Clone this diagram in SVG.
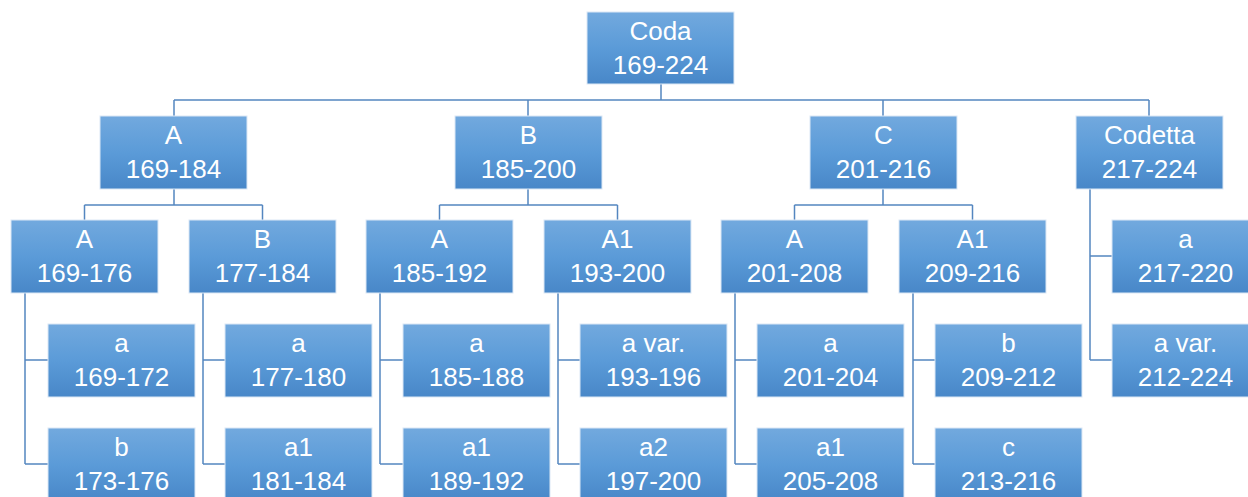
<svg xmlns="http://www.w3.org/2000/svg" width="1248" height="497" viewBox="0 0 1248 497">
<defs>
<linearGradient id="g" x1="0" y1="0" x2="0" y2="1">
<stop offset="0" stop-color="#72a9de"/>
<stop offset="0.5" stop-color="#5b9bd8"/>
<stop offset="1" stop-color="#4887c8"/>
</linearGradient>
</defs>
<style>
rect.n{fill:url(#g);stroke:#dce8f5;stroke-width:1}
text{font-family:"Liberation Sans",Arial,sans-serif;font-size:26px;fill:#ffffff;text-anchor:middle}
.c path{fill:none;stroke:#5486c0;stroke-width:1.5}
</style>
<rect width="1248" height="497" fill="#ffffff"/>
<g class="c">
<path d="M661 84V100M174 100H1149M174 100V116M528 100V116M883 100V116M1149 100V116"/>
<path d="M174 189V205M84.5 205H262.5M84.5 205V220M262.5 205V220"/>
<path d="M528 189V205M439.5 205H617.5M439.5 205V220M617.5 205V220"/>
<path d="M883 189V205M794.5 205H972.5M794.5 205V220M972.5 205V220"/>
<path d="M25 293V464M25 360H48M25 464H48"/>
<path d="M203 293V464M203 360H225M203 464H225"/>
<path d="M380 293V464M380 360H403M380 464H403"/>
<path d="M558 293V464M558 360H580M558 464H580"/>
<path d="M735 293V464M735 360H757M735 464H757"/>
<path d="M913 293V464M913 360H935M913 464H935"/>
<path d="M1090 189V360M1090 256H1112M1090 360H1112"/>
</g>
<g id="root"><rect class="n" x="587" y="12" width="147" height="72"/><text x="660.5" y="40">Coda</text><text x="660.5" y="74">169-224</text></g>
<g id="n_A"><rect class="n" x="100" y="116" width="147" height="73"/><text x="173.5" y="144">A</text><text x="173.5" y="178">169-184</text></g>
<g id="n_B"><rect class="n" x="455" y="116" width="147" height="73"/><text x="528.5" y="144">B</text><text x="528.5" y="178">185-200</text></g>
<g id="n_C"><rect class="n" x="810" y="116" width="147" height="73"/><text x="883.5" y="144">C</text><text x="883.5" y="178">201-216</text></g>
<g id="n_Codetta"><rect class="n" x="1076" y="116" width="147" height="73"/><text x="1149.5" y="144">Codetta</text><text x="1149.5" y="178">217-224</text></g>
<g id="n_AA"><rect class="n" x="11" y="220" width="147" height="73"/><text x="84.5" y="248">A</text><text x="84.5" y="282">169-176</text></g>
<g id="n_AB"><rect class="n" x="189" y="220" width="147" height="73"/><text x="262.5" y="248">B</text><text x="262.5" y="282">177-184</text></g>
<g id="n_BA"><rect class="n" x="366" y="220" width="147" height="73"/><text x="439.5" y="248">A</text><text x="439.5" y="282">185-192</text></g>
<g id="n_BA1"><rect class="n" x="544" y="220" width="147" height="73"/><text x="617.5" y="248">A1</text><text x="617.5" y="282">193-200</text></g>
<g id="n_CA"><rect class="n" x="721" y="220" width="147" height="73"/><text x="794.5" y="248">A</text><text x="794.5" y="282">201-208</text></g>
<g id="n_CA1"><rect class="n" x="899" y="220" width="147" height="73"/><text x="972.5" y="248">A1</text><text x="972.5" y="282">209-216</text></g>
<g id="n_Da"><rect class="n" x="1112" y="220" width="147" height="73"/><text x="1185.5" y="248">a</text><text x="1185.5" y="282">217-220</text></g>
<g id="n_Dav"><rect class="n" x="1112" y="324" width="147" height="73"/><text x="1185.5" y="352">a var.</text><text x="1185.5" y="386">212-224</text></g>
<g id="n_AAa"><rect class="n" x="48" y="324" width="147" height="73"/><text x="121.5" y="352">a</text><text x="121.5" y="386">169-172</text></g>
<g id="n_AAb"><rect class="n" x="48" y="428" width="147" height="73"/><text x="121.5" y="456">b</text><text x="121.5" y="490">173-176</text></g>
<g id="n_ABa"><rect class="n" x="225" y="324" width="147" height="73"/><text x="298.5" y="352">a</text><text x="298.5" y="386">177-180</text></g>
<g id="n_ABa1"><rect class="n" x="225" y="428" width="147" height="73"/><text x="298.5" y="456">a1</text><text x="298.5" y="490">181-184</text></g>
<g id="n_BAa"><rect class="n" x="403" y="324" width="147" height="73"/><text x="476.5" y="352">a</text><text x="476.5" y="386">185-188</text></g>
<g id="n_BAa1"><rect class="n" x="403" y="428" width="147" height="73"/><text x="476.5" y="456">a1</text><text x="476.5" y="490">189-192</text></g>
<g id="n_BA1av"><rect class="n" x="580" y="324" width="147" height="73"/><text x="653.5" y="352">a var.</text><text x="653.5" y="386">193-196</text></g>
<g id="n_BA1a2"><rect class="n" x="580" y="428" width="147" height="73"/><text x="653.5" y="456">a2</text><text x="653.5" y="490">197-200</text></g>
<g id="n_CAa"><rect class="n" x="757" y="324" width="147" height="73"/><text x="830.5" y="352">a</text><text x="830.5" y="386">201-204</text></g>
<g id="n_CAa1"><rect class="n" x="757" y="428" width="147" height="73"/><text x="830.5" y="456">a1</text><text x="830.5" y="490">205-208</text></g>
<g id="n_CA1b"><rect class="n" x="935" y="324" width="147" height="73"/><text x="1008.5" y="352">b</text><text x="1008.5" y="386">209-212</text></g>
<g id="n_CA1c"><rect class="n" x="935" y="428" width="147" height="73"/><text x="1008.5" y="456">c</text><text x="1008.5" y="490">213-216</text></g>
</svg>
